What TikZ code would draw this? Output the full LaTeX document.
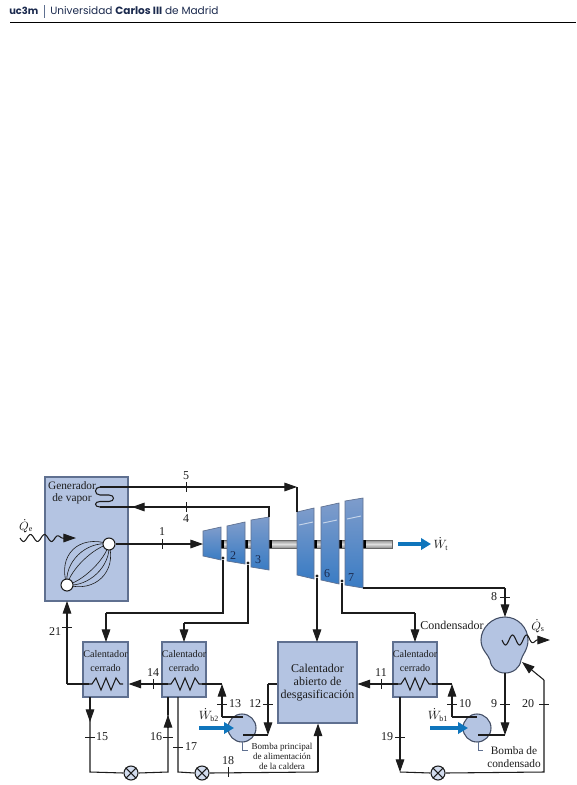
\documentclass[tikz,border=0pt]{standalone}
\usepackage{fontspec}
\setmainfont{Liberation Serif}
\newfontfamily\headfont{Poppins}
\usetikzlibrary{arrows.meta,calc}
\definecolor{ink}{HTML}{1C1C1C}
\definecolor{boxblue}{HTML}{B4C4E2}
\definecolor{boxedge}{HTML}{5F7090}
\definecolor{arrowblue}{HTML}{0F75BC}
\definecolor{navy}{HTML}{1B2A4E}
\definecolor{stagetop}{HTML}{7E9CCB}
\definecolor{stagemid}{HTML}{B5C5E2}
\definecolor{stagebot}{HTML}{3A7CC4}
\tikzset{
  pipe/.style={draw=ink,line width=0.8pt},
  flow/.style={draw=ink,line width=0.8pt,-{Triangle[length=9.5pt,width=6.5pt]}},
  power/.style={draw=arrowblue,line width=2.6pt,-{Triangle[length=7.5pt,width=8.5pt]}},
  heater/.style={draw=boxedge,fill=boxblue,line width=0.8pt,inner sep=0pt},
  lab/.style={font=\fontsize{9}{10}\selectfont,text=ink,inner sep=0pt},
  boxlab/.style={font=\fontsize{7.6}{9}\selectfont,text=ink,inner sep=0pt},
  small/.style={font=\fontsize{6.8}{7.5}\selectfont,text=ink,inner sep=0pt},
  stage/.style={draw=boxedge,line width=0.5pt,top color=stagetop,middle color=stagemid,bottom color=stagebot},
  hole/.style={circle,draw=ink,fill=white,line width=0.8pt,minimum size=9pt,inner sep=0pt},
  valve/.style={circle,draw=ink,fill=boxblue!60!white,line width=0.8pt,minimum size=10.5pt,inner sep=0pt},
  pumpc/.style={circle,draw=boxedge!70!black,fill=boxblue,line width=0.8pt,minimum size=21pt,inner sep=0pt},
  dotm/.style={circle,fill=ink,minimum size=2.4pt,inner sep=0pt},
}
\newcommand{\tickh}[2]{\draw[pipe,line width=0.6pt] (#1-5,#2) -- (#1+5,#2);}
\newcommand{\tickv}[2]{\draw[pipe,line width=0.6pt] (#1,#2-5) -- (#1,#2+5);}
\newcommand{\coil}[2]{\draw[pipe,line join=miter] (#1,#2) -- ++(3,0) -- ++(4,-6) -- ++(5,12) -- ++(5,-12) -- ++(5,12) -- ++(5,-12) -- ++(4,6) -- ++(3,0);}
\newcommand{\valvecross}[1]{\draw[pipe] (#1.north west) -- (#1.south east) (#1.north east) -- (#1.south west);}
\begin{document}
\begin{tikzpicture}[x=0.75pt,y=-0.75pt]
\useasboundingbox (0,0) rectangle (576,785);
\fill[white] (0,0) rectangle (576,785);
% header
\node[anchor=west,inner sep=0pt,font=\headfont\bfseries\fontsize{7.4}{9}\selectfont,text=navy] (uc) at (9,11) {uc3m};
\draw[boxedge,line width=0.6pt] (44,5) -- (44,18);
\node[anchor=west,inner sep=0pt,font=\headfont\fontsize{7.9}{9}\selectfont,text=navy] (univ) at (50,11) {Universidad \textbf{Carlos III} de Madrid};
\draw[black,line width=0.7pt] (10,22) -- (576,22);

% boiler
\node[heater,minimum width=62.25pt,minimum height=93pt] (gen) at (86.5,539) {};
\node[lab,font=\fontsize{8.5}{10}\selectfont] (gent1) at (72,486) {Generador};
\node[lab,font=\fontsize{8.5}{10}\selectfont] (gent2) at (72,499) {de vapor};
\coordinate (tt) at (109,544);
\coordinate (tb) at (67,585);
\foreach \o in {-20,-13,-6,6,12,18}{
  \draw[ink,line width=0.45pt] (tb) .. controls ($(tb)+(10,-10)+(\o,\o)$) and ($(tt)+(-10,10)+(\o,\o)$) .. (tt);
}
\node[hole] (hot) at (tt) {};
\node[hole] (cold) at (tb) {};

% shaft
\shade[top color=gray!90,bottom color=gray!90,middle color=gray!25,draw=gray!80!black,line width=0.4pt] (221,540) rectangle (392,548);
\foreach \a in {221,245,269,314,339,363}{\fill[black] (\a,540) rectangle (\a+3,548);}
% turbine stages
\shade[stage] (203,531) -- (221,527) -- (221,560) -- (203,556) -- cycle;
\shade[stage] (227,526) -- (245,522) -- (245,564) -- (227,561) -- cycle;
\shade[stage] (251,520) -- (269,517) -- (269,570) -- (251,567) -- cycle;
\shade[stage] (297,512) -- (314,508) -- (314,579) -- (297,575) -- cycle;
\shade[stage] (321,507) -- (339,503) -- (339,584) -- (321,580) -- cycle;
\shade[stage] (345,501) -- (363,498) -- (363,588) -- (345,585) -- cycle;
\foreach \a/\b in {299/525,323/523,347/519}{\draw[white,line width=0.7pt,opacity=.6] (\a,\b) -- (\a+14,\b-3);}
\node[lab,text=navy] (t2) at (233,556) {2};
\node[lab,text=navy] (t3) at (258,560) {3};
\node[lab,text=navy] (t6) at (327,574) {6};
\node[lab,text=navy] (t7) at (351,578) {7};
\coordinate (in1) at (203,544);
\coordinate (in5) at (297,512);
\coordinate (out3) at (269,517);
\coordinate (out7) at (363,588);
\node[dotm] (ex1) at (223,558) {};
\node[dotm] (ex2) at (248,563) {};
\node[dotm] (ex3) at (317,576) {};
\node[dotm] (ex4) at (342,581) {};

% coil in boiler, lines 4 and 5
\coordinate (c5) at (100,487);
\coordinate (c4) at (100,507);
\draw[pipe] (c5) .. controls (94,487) and (94,495) .. (100,495) -- (109,495)
  .. controls (115,495) and (115,501.5) .. (109,501.5) -- (100,501.5)
  .. controls (94,501.5) and (94,507) .. (c4);
\coordinate (a5) at (297,487);
\draw[flow] (c5) -- (a5);
\draw[pipe] (a5) -- (in5);
\coordinate (a4) at (132,507);
\coordinate (b4) at (269,507);
\draw[pipe] (out3) -- (b4) -- (c4);
\draw[flow] (143,507) -- (a4);
\tickv{186}{487} \tickv{186}{507}
\node[lab] (l5) at (186,476) {5};
\node[lab] (l4) at (186,519) {4};

% line 1
\draw[flow] (hot) -- (in1);
\tickv{162}{544}
\node[lab] (l1) at (162,532) {1};

% Qe
\draw[ink,line width=0.8pt] plot[domain=20:64,samples=60,smooth] (\x,{538+3.5*sin(25.7*(\x-20))*min(1,(64-\x)/10+0.05)});
\draw[flow,shorten >=0pt] (64,538) -- (76,538);
\node[lab] (qe) at (26,526) {$\dot{Q}_{\mathrm{e}}$};

% Wt
\draw[power] (398,544) -- (431,544);
\node[lab] (wt) at (441,544) {$\dot{W}_{\mathrm{t}}$};

% heaters
\node[heater,minimum width=33.75pt,minimum height=41.25pt] (cc1) at (105.5,669.5) {};
\node[heater,minimum width=33pt,minimum height=41.25pt] (cc2) at (184,669.5) {};
\node[heater,minimum width=59.25pt,minimum height=60.75pt] (oda) at (317.5,682.5) {};
\node[heater,minimum width=33pt,minimum height=41.25pt] (cc3) at (415,669.5) {};
\node[boxlab] (cc1a) at (105.5,654) {Calentador};
\node[boxlab] (cc1b) at (105.5,668) {cerrado};
\node[boxlab] (cc2a) at (184,654) {Calentador};
\node[boxlab] (cc2b) at (184,668) {cerrado};
\node[boxlab] (cc3a) at (415,654) {Calentador};
\node[boxlab] (cc3b) at (415,668) {cerrado};
\node[lab,align=center,font=\fontsize{9}{9.75}\selectfont] (odat) at (317.5,683) {Calentador\\abierto de\\desgasificación};
\coil{89}{684}
\coil{168}{684}
\coil{398}{684}

% extraction lines
\coordinate (e1a) at (223,613); \coordinate (e1b) at (106,613); \coordinate (i1) at (106,642);
\draw[pipe] (ex1) -- (e1a) -- (e1b); \draw[flow] (e1b) -- (i1);
\coordinate (e2a) at (248,623); \coordinate (e2b) at (184,623); \coordinate (i2) at (184,642);
\draw[pipe] (ex2) -- (e2a) -- (e2b); \draw[flow] (e2b) -- (i2);
\coordinate (i3) at (317,642);
\draw[flow] (ex3) -- (i3);
\coordinate (e4a) at (342,613); \coordinate (e4b) at (415,613); \coordinate (i4) at (415,642);
\draw[pipe] (ex4) -- (e4a) -- (e4b); \draw[flow] (e4b) -- (i4);

% condenser
\path[draw=boxedge!70!black,fill=boxblue,line width=0.8pt] (505,617) .. controls (518,617) and (528,628) .. (528,640) .. controls (528,650) and (522,655) .. (521,660) .. controls (520,668) and (513,673) .. (505,673) .. controls (497,673) and (491,668) .. (490,660) .. controls (488,654) and (481,650) .. (481,640) .. controls (481,628) and (492,617) .. (505,617) -- cycle;
\coordinate (condt) at (505,617);
\coordinate (condb) at (505,673);
\coordinate (condr) at (522,662);
\node[lab] (condl) at (452,625) {Condensador};
\draw[ink,line width=0.8pt] plot[domain=502:538,samples=60,smooth] (\x,{640+5*sin(25.7*(\x-502))*min(1,(538-\x)/10+0.05)});
\draw[flow] (538,640) -- (550,640);
\node[lab] (qs) at (538,626) {$\dot{Q}_{\mathrm{s}}$};

% line 8
\coordinate (c8) at (505,588);
\draw[pipe] (out7) -- (c8);
\draw[flow] (c8) -- (condt);
\tickh{505}{597}
\node[lab] (l8) at (494,597) {8};

% pump 1
\node[pumpc] (p1) at (477,728) {};
\coordinate (p1o) at (477,717);
\coordinate (p1i) at (478,735);
\coordinate (j10) at (452,717);
\coordinate (j10t) at (452,684);
\coordinate (j9) at (505,735);
\draw[pipe] (432,684) -- (452,684);
\draw[pipe] (p1o) -- (j10);
\draw[flow] (j10) -- (j10t);
\draw[pipe] (condb) -- (505,720);
\draw[flow] (505,715) -- (j9);
\draw[pipe] (j9) -- (p1i);
\tickh{452}{704} \tickh{505}{704}
\node[lab] (l10) at (465,704) {10};
\node[lab] (l9) at (494,704) {9};
\draw[power] (430,728) -- (468,728);
\node[lab] (wb1) at (438,715) {$\dot{W}_{\mathrm{b1}}$};
\draw[boxedge,line width=0.5pt] (478,742) -- (478,750) -- (483,750);
\node[lab,align=center,font=\fontsize{8.5}{9.75}\selectfont] (bc) at (514,757) {Bomba de\\condensado};

% line 11
\coordinate (j11) at (398,684);
\draw[flow] (j11) -- (oda.east |- j11);
\tickv{381}{684}
\node[lab] (l11) at (381,673) {11};

% line 19 / 20
\coordinate (j19) at (400,697);
\coordinate (j19b) at (400,772);
\node[valve] (v3) at (438,773) {};
\valvecross{v3}
\draw[flow] (j19) -- (j19b);
\draw[pipe] (j19b) -- (v3.west);
\coordinate (j20a) at (544,772);
\coordinate (j20b) at (544,680);
\draw[pipe] (v3.east) -- (j20a) -- (j20b);
\draw[flow] (j20b) -- (condr);
\tickh{400}{737} \tickh{544}{704}
\node[lab] (l19) at (387,737) {19};
\node[lab] (l20) at (528,704) {20};

% pump 2
\node[pumpc] (p2) at (242,728) {};
\coordinate (p2o) at (243,717);
\coordinate (p2i) at (243,735);
\coordinate (j13) at (222,717);
\coordinate (j13t) at (222,684);
\coordinate (j12a) at (268,684);
\coordinate (j12b) at (268,735);
\draw[pipe] (202,684) -- (j13t);
\draw[pipe] (p2o) -- (j13);
\draw[flow] (j13) -- (j13t);
\draw[pipe] (oda.west |- j12a) -- (j12a);
\draw[flow] (j12a) -- (j12b);
\draw[pipe] (j12b) -- (p2i);
\tickh{222}{704} \tickh{268}{704}
\node[lab] (l13) at (235,704) {13};
\node[lab] (l12) at (255,704) {12};
\draw[power] (199,728) -- (234,728);
\node[lab] (wb2) at (209,715) {$\dot{W}_{\mathrm{b2}}$};
\draw[boxedge,line width=0.5pt] (242,742) -- (242,750) -- (248,750);
\node[small,align=center] (bp) at (282,756) {Bomba principal\\de alimentación\\de la caldera};

% line 14
\coordinate (j14) at (168,684);
\draw[flow] (j14) -- (cc1.east |- j14);
\tickv{153}{684}
\node[lab] (l14) at (153,673) {14};

% line 21
\coordinate (j21) at (67,684);
\coordinate (gi) at (67,601);
\draw[pipe] (89,684) -- (j21);
\draw[flow] (j21) -- (gi);
\tickh{67}{627}
\node[lab] (l21) at (55,632) {21};

% line 15, 16
\coordinate (j15) at (90,697);
\coordinate (j15b) at (90,772);
\coordinate (j16a) at (168,772);
\coordinate (j16t) at (168,697);
\node[valve] (v1) at (131,773) {};
\valvecross{v1}
\draw[flow] (j15) -- (90,722);
\draw[pipe] (90,715) -- (j15b) -- (v1.west);
\draw[pipe] (v1.east) -- (j16a) -- (168,715);
\draw[flow] (168,728) -- (168,715);
\draw[pipe] (168,715) -- (j16t);
\tickh{90}{737} \tickh{168}{737}
\node[lab] (l15) at (102,737) {15};
\node[lab] (l16) at (156,737) {16};

% line 17, 18
\coordinate (j17) at (178,697);
\coordinate (j17b) at (178,772);
\coordinate (j18) at (318,772);
\node[valve] (v2) at (202,773) {};
\valvecross{v2}
\draw[pipe] (j17) -- (j17b) -- (v2.west);
\draw[pipe] (v2.east) -- (j18);
\draw[flow] (j18) -- (oda.south -| j18);
\tickh{178}{747} \tickv{228}{772}
\node[lab] (l17) at (191,747) {17};
\node[lab] (l18) at (228,761) {18};
\end{tikzpicture}
\end{document}
